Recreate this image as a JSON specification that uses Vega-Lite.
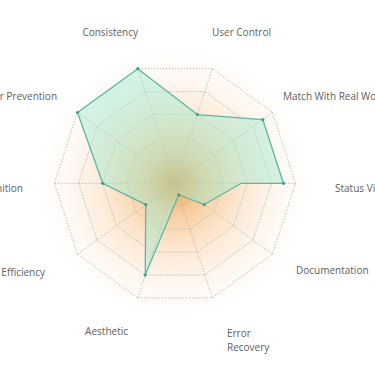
{
  "$schema": "https://vega.github.io/schema/vega-lite/v6.json",
  "width": 375,
  "height": 366,
  "padding": 0,
  "autosize": "none",
  "background": "#ffffff",
  "config": {"view": {"stroke": null}, "text": {"font": "Open Sans", "fontSize": 10, "color": "#606060", "baseline": "middle"}},
  "datasets": {
    "axes": [
      {"axis": "Status Visibility", "label": "Status Visibility", "i": 0, "rings": [20, 40, 60, 80, 100]},
      {"axis": "Match With Real World", "label": "Match With Real World", "i": 1, "rings": [20, 40, 60, 80, 100]},
      {"axis": "User Control", "label": "User Control", "i": 2, "rings": [20, 40, 60, 80, 100]},
      {"axis": "Consistency", "label": "Consistency", "i": 3, "rings": [20, 40, 60, 80, 100]},
      {"axis": "Error Prevention", "label": "Error Prevention", "i": 4, "rings": [20, 40, 60, 80, 100]},
      {"axis": "Recognition", "label": "Recognition", "i": 5, "rings": [20, 40, 60, 80, 100]},
      {"axis": "Efficiency", "label": "Efficiency", "i": 6, "rings": [20, 40, 60, 80, 100]},
      {"axis": "Aesthetic", "label": "Aesthetic", "i": 7, "rings": [20, 40, 60, 80, 100]},
      {"axis": "Error Recovery", "label": "Error\nRecovery", "i": 8, "rings": [20, 40, 60, 80, 100]},
      {"axis": "Documentation", "label": "Documentation", "i": 9, "rings": [20, 40, 60, 80, 100]}
    ],
    "scores": [
      {"axis": "Status Visibility", "i": 0, "value": 90, "step": 1},
      {"axis": "Match With Real World", "i": 1, "value": 90, "step": 2},
      {"axis": "User Control", "i": 2, "value": 60, "step": 3},
      {"axis": "Consistency", "i": 3, "value": 100, "step": 4},
      {"axis": "Error Prevention", "i": 4, "value": 100, "step": 5},
      {"axis": "Recognition", "i": 5, "value": 60, "step": 6},
      {"axis": "Efficiency", "i": 6, "value": 30, "step": 7},
      {"axis": "Aesthetic", "i": 7, "value": 80, "step": 8},
      {"axis": "Error Recovery", "i": 8, "value": 10, "step": 9},
      {"axis": "Documentation", "i": 9, "value": 30, "step": 10},
      {"axis": "Status Visibility", "i": 10, "value": 55, "step": 11},
      {"axis": "Status Visibility", "i": 10, "value": 90, "step": 12}
    ],
    "center": [{"x": 0, "y": 0}]
  },
  "layer": [
    {
      "data": {"name": "center"},
      "mark": {
        "type": "point",
        "shape": "circle",
        "size": 78400,
        "filled": true,
        "strokeWidth": 0,
        "opacity": 1,
        "fill": {
          "gradient": "radial",
          "x1": 0.5, "y1": 0.5, "r1": 0,
          "x2": 0.5, "y2": 0.5, "r2": 0.5,
          "stops": [
            {"offset": 0, "color": "rgba(230,152,60,0.92)"},
            {"offset": 0.2, "color": "rgba(242,170,90,0.62)"},
            {"offset": 0.45, "color": "rgba(248,190,130,0.4)"},
            {"offset": 0.7, "color": "rgba(251,215,180,0.25)"},
            {"offset": 0.88, "color": "rgba(253,235,215,0.12)"},
            {"offset": 1, "color": "rgba(255,255,255,0)"}
          ]
        }
      },
      "encoding": {
        "x": {"field": "x", "type": "quantitative", "scale": {"domain": [-175, 200], "nice": false, "zero": false}, "axis": null},
        "y": {"field": "y", "type": "quantitative", "scale": {"domain": [-182.7, 183.3], "nice": false, "zero": false}, "axis": null}
      }
    },
    {
      "data": {"name": "axes"},
      "transform": [
        {"flatten": ["rings"], "as": ["ring"]},
        {"calculate": "datum.ring / 100 * 120.5", "as": "rr"},
        {"calculate": "datum.rr * cos(datum.i * PI / 5)", "as": "gx"},
        {"calculate": "datum.rr * sin(datum.i * PI / 5)", "as": "gy"},
        {"calculate": "datum.rr * cos((datum.i + 1) * PI / 5)", "as": "gx2"},
        {"calculate": "datum.rr * sin((datum.i + 1) * PI / 5)", "as": "gy2"}
      ],
      "mark": {"type": "rule", "color": "#b8b4ae", "strokeWidth": 0.8, "strokeDash": [1.5, 1.5]},
      "encoding": {
        "x": {"field": "gx", "type": "quantitative"},
        "y": {"field": "gy", "type": "quantitative"},
        "x2": {"field": "gx2"},
        "y2": {"field": "gy2"}
      }
    },
    {
      "data": {"name": "axes"},
      "transform": [
        {"calculate": "120.5 * cos(datum.i * PI / 5)", "as": "sx"},
        {"calculate": "120.5 * sin(datum.i * PI / 5)", "as": "sy"},
        {"calculate": "0", "as": "ox"}
      ],
      "mark": {"type": "rule", "color": "#b8b4ae", "strokeWidth": 0.8, "strokeDash": [1.5, 1.5]},
      "encoding": {
        "x": {"field": "sx", "type": "quantitative"},
        "y": {"field": "sy", "type": "quantitative"},
        "x2": {"field": "ox"},
        "y2": {"field": "ox"}
      }
    },
    {
      "data": {"name": "scores"},
      "transform": [
        {"calculate": "datum.value / 100 * 120.5", "as": "r"},
        {"calculate": "datum.r * cos(datum.i * PI / 5)", "as": "px"},
        {"calculate": "datum.r * sin(datum.i * PI / 5)", "as": "py"}
      ],
      "mark": {"type": "line", "fill": "#9fe8cf", "fillOpacity": 0.45, "stroke": "#5fb6a4", "strokeWidth": 1.3, "strokeJoin": "round"},
      "encoding": {
        "x": {"field": "px", "type": "quantitative"},
        "y": {"field": "py", "type": "quantitative"},
        "order": {"field": "step", "type": "quantitative"}
      }
    },
    {
      "data": {"name": "scores"},
      "transform": [
        {"filter": "datum.step <= 10"},
        {"calculate": "datum.value / 100 * 120.5", "as": "r"},
        {"calculate": "datum.r * cos(datum.i * PI / 5)", "as": "px"},
        {"calculate": "datum.r * sin(datum.i * PI / 5)", "as": "py"}
      ],
      "mark": {"type": "point", "shape": "circle", "filled": true, "size": 10, "color": "#3f9f8d", "opacity": 1},
      "encoding": {
        "x": {"field": "px", "type": "quantitative"},
        "y": {"field": "py", "type": "quantitative"}
      }
    },
    {
      "data": {"name": "axes"},
      "transform": [{"filter": "datum.i == 0"}, {"calculate": "152 * cos(datum.i * PI / 5)", "as": "lx"}, {"calculate": "152 * sin(datum.i * PI / 5)", "as": "ly"}],
      "mark": {"type": "text", "align": "left", "dx": 8, "dy": 6},
      "encoding": {"x": {"field": "lx", "type": "quantitative"}, "y": {"field": "ly", "type": "quantitative"}, "text": {"field": "label"}}
    },
    {
      "data": {"name": "axes"},
      "transform": [{"filter": "datum.i == 1"}, {"calculate": "152 * cos(datum.i * PI / 5)", "as": "lx"}, {"calculate": "152 * sin(datum.i * PI / 5)", "as": "ly"}],
      "mark": {"type": "text", "align": "left", "dx": -15, "dy": 3},
      "encoding": {"x": {"field": "lx", "type": "quantitative"}, "y": {"field": "ly", "type": "quantitative"}, "text": {"field": "label"}}
    },
    {
      "data": {"name": "axes"},
      "transform": [{"filter": "datum.i == 2"}, {"calculate": "152 * cos(datum.i * PI / 5)", "as": "lx"}, {"calculate": "152 * sin(datum.i * PI / 5)", "as": "ly"}],
      "mark": {"type": "text", "align": "left", "dx": -10, "dy": -6},
      "encoding": {"x": {"field": "lx", "type": "quantitative"}, "y": {"field": "ly", "type": "quantitative"}, "text": {"field": "label"}}
    },
    {
      "data": {"name": "axes"},
      "transform": [{"filter": "datum.i == 3"}, {"calculate": "152 * cos(datum.i * PI / 5)", "as": "lx"}, {"calculate": "152 * sin(datum.i * PI / 5)", "as": "ly"}],
      "mark": {"type": "text", "align": "right", "dx": 10, "dy": -6},
      "encoding": {"x": {"field": "lx", "type": "quantitative"}, "y": {"field": "ly", "type": "quantitative"}, "text": {"field": "label"}}
    },
    {
      "data": {"name": "axes"},
      "transform": [{"filter": "datum.i == 4"}, {"calculate": "152 * cos(datum.i * PI / 5)", "as": "lx"}, {"calculate": "152 * sin(datum.i * PI / 5)", "as": "ly"}],
      "mark": {"type": "text", "align": "right", "dx": 5, "dy": 3},
      "encoding": {"x": {"field": "lx", "type": "quantitative"}, "y": {"field": "ly", "type": "quantitative"}, "text": {"field": "label"}}
    },
    {
      "data": {"name": "axes"},
      "transform": [{"filter": "datum.i == 5"}, {"calculate": "152 * cos(datum.i * PI / 5)", "as": "lx"}, {"calculate": "152 * sin(datum.i * PI / 5)", "as": "ly"}],
      "mark": {"type": "text", "align": "right", "dx": 0, "dy": 6},
      "encoding": {"x": {"field": "lx", "type": "quantitative"}, "y": {"field": "ly", "type": "quantitative"}, "text": {"field": "label"}}
    },
    {
      "data": {"name": "axes"},
      "transform": [{"filter": "datum.i == 6"}, {"calculate": "152 * cos(datum.i * PI / 5)", "as": "lx"}, {"calculate": "152 * sin(datum.i * PI / 5)", "as": "ly"}],
      "mark": {"type": "text", "align": "right", "dx": -7, "dy": 0},
      "encoding": {"x": {"field": "lx", "type": "quantitative"}, "y": {"field": "ly", "type": "quantitative"}, "text": {"field": "label"}}
    },
    {
      "data": {"name": "axes"},
      "transform": [{"filter": "datum.i == 7"}, {"calculate": "152 * cos(datum.i * PI / 5)", "as": "lx"}, {"calculate": "152 * sin(datum.i * PI / 5)", "as": "ly"}],
      "mark": {"type": "text", "align": "right", "dx": 0, "dy": 4},
      "encoding": {"x": {"field": "lx", "type": "quantitative"}, "y": {"field": "ly", "type": "quantitative"}, "text": {"field": "label"}}
    },
    {
      "data": {"name": "axes"},
      "transform": [{"filter": "datum.i == 8"}, {"calculate": "152 * cos(datum.i * PI / 5)", "as": "lx"}, {"calculate": "152 * sin(datum.i * PI / 5)", "as": "ly"}],
      "mark": {"type": "text", "align": "left", "dx": 5, "dy": 6, "lineBreak": "\n", "lineHeight": 14},
      "encoding": {"x": {"field": "lx", "type": "quantitative"}, "y": {"field": "ly", "type": "quantitative"}, "text": {"field": "label"}}
    },
    {
      "data": {"name": "axes"},
      "transform": [{"filter": "datum.i == 9"}, {"calculate": "152 * cos(datum.i * PI / 5)", "as": "lx"}, {"calculate": "152 * sin(datum.i * PI / 5)", "as": "ly"}],
      "mark": {"type": "text", "align": "left", "dx": -2, "dy": -2},
      "encoding": {"x": {"field": "lx", "type": "quantitative"}, "y": {"field": "ly", "type": "quantitative"}, "text": {"field": "label"}}
    }
  ]
}
